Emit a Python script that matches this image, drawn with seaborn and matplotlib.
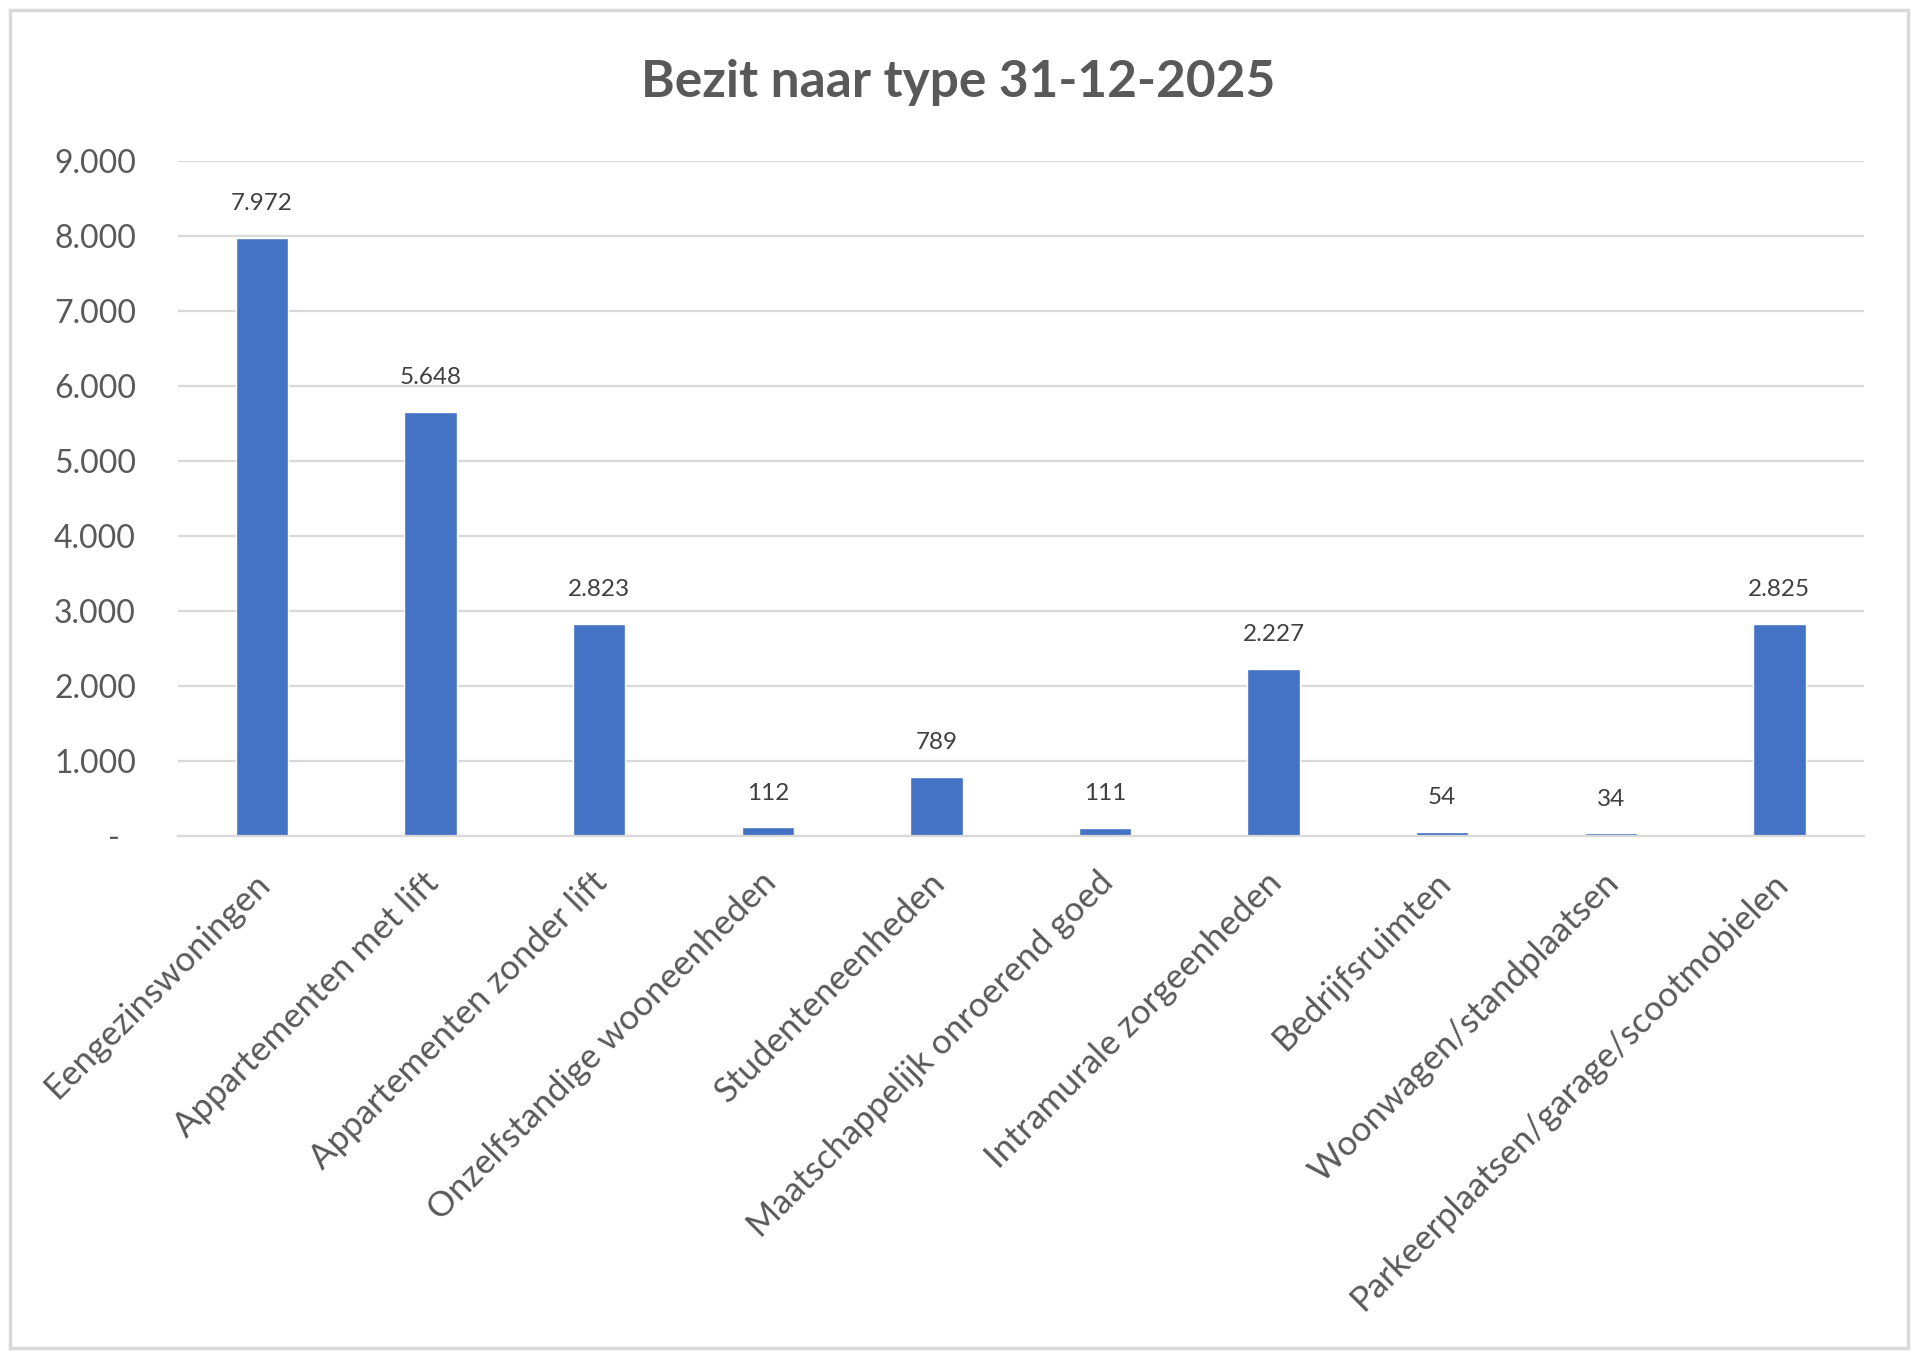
import matplotlib
matplotlib.use("Agg")
import matplotlib.pyplot as plt
import matplotlib.transforms as mtransforms
from matplotlib.patches import Rectangle
import pandas as pd
import seaborn as sns

# data
categories = [
    "Eengezinswoningen",
    "Appartementen met lift",
    "Appartementen zonder lift",
    "Onzelfstandige wooneenheden",
    "Studenteneenheden",
    "Maatschappelijk onroerend goed",
    "Intramurale zorgeenheden",
    "Bedrijfsruimten",
    "Woonwagen/standplaatsen",
    "Parkeerplaatsen/garage/scootmobielen",
]
values = [7972, 5648, 2823, 112, 789, 111, 2227, 54, 34, 2825]
y_ticks = [0, 1000, 2000, 3000, 4000, 5000, 6000, 7000, 8000, 9000]
title = "Bezit naar type 31-12-2025"


def nl_number(v):
    # Dutch thousands separator, zero shown as "-" (Excel accounting style)
    if v == 0:
        return "-"
    return f"{v:,}".replace(",", ".")


sns.set_theme(style="white")
plt.rcParams["font.family"] = ["Lato", "DejaVu Sans"]

df = pd.DataFrame({"type": categories, "aantal": values})

fig = plt.figure(figsize=(19.2, 13.58), dpi=100)
fig.patch.set_facecolor("white")
fig.patches.append(Rectangle((0.005, 0.007), 0.989, 0.986, transform=fig.transFigure,
                             fill=False, edgecolor="#D9D9D9", linewidth=2.5))

ax = fig.add_axes([0.0925, 0.3845, 0.8782, 0.4973])
sns.barplot(data=df, x="type", y="aantal", color="#4472C4", width=0.31,
            saturation=1, ax=ax)

ax.set_xlim(-0.5, len(categories) - 0.5)
ax.set_ylim(0, 9000)
ax.set_yticks(y_ticks)
ax.set_yticklabels([nl_number(t) for t in y_ticks])
ax.set_xlabel("")
ax.set_ylabel("")

ax.grid(axis="y", color="#D9D9D9", linewidth=1.6)
ax.set_axisbelow(True)
for side in ["left", "right", "top"]:
    ax.spines[side].set_visible(False)
ax.spines["bottom"].set_color("#D9D9D9")
ax.spines["bottom"].set_linewidth(1.6)

ax.tick_params(axis="y", length=0, pad=30, labelsize=23, labelcolor="#595959")
ax.tick_params(axis="x", length=0, pad=22, labelsize=25, labelcolor="#595959")

# the "-" for zero sits a bit more to the left
zero_lbl = ax.get_yticklabels()[0]
zero_lbl.set_transform(zero_lbl.get_transform()
                       + mtransforms.ScaledTranslation(-16 / 100, 0, fig.dpi_scale_trans))

shift = mtransforms.ScaledTranslation(-8 / 100, 0, fig.dpi_scale_trans)
for lbl in ax.get_xticklabels():
    lbl.set_rotation(45)
    lbl.set_ha("right")
    lbl.set_va("top")
    lbl.set_rotation_mode("anchor")
    lbl.set_transform(lbl.get_transform() + shift)

ax.bar_label(ax.containers[0], labels=[nl_number(v) for v in values],
             padding=17, fontsize=17.5, color="#404040")

fig.text(0.499, 0.939, title, ha="center", va="center", fontsize=37,
         fontweight="bold", color="#595959")

fig.savefig("out.png", dpi=100)
